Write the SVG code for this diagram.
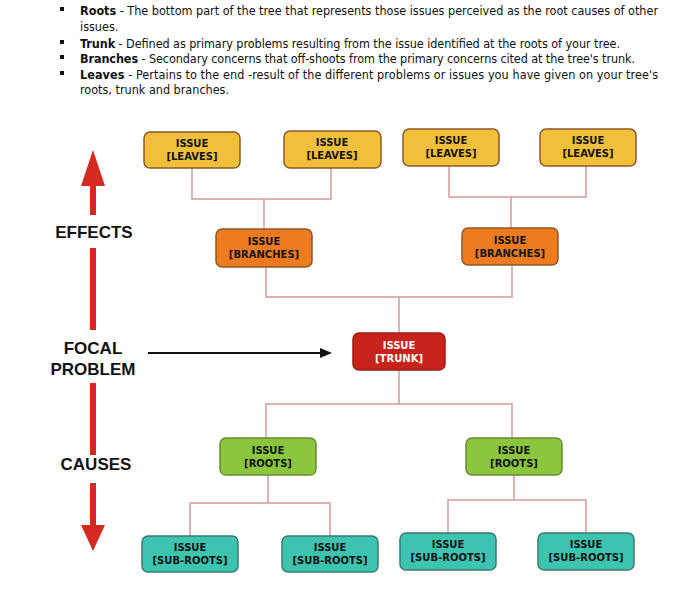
<svg xmlns="http://www.w3.org/2000/svg" width="700" height="602" viewBox="0 0 700 602">
<style>
.t{font-family:"DejaVu Sans Condensed","DejaVu Sans",sans-serif;font-size:12.5px;fill:#111}
.b{font-weight:bold}
.n rect{stroke:#8a5a2a;stroke-width:1.5}
.n text{font-family:"DejaVu Sans",sans-serif;font-size:10px;font-weight:bold;text-anchor:middle;fill:#111}
.lf rect{fill:#f2bf3a}.br rect{fill:#ef7a20}.tr rect{fill:#c8231a;stroke:#a01a12}.tr text{fill:#fff}
.rt rect{fill:#8cc63f;stroke:#6a8a30}.sr rect{fill:#3cc4b0;stroke:#3a7a70}
.c path{fill:none;stroke:#d49a9a;stroke-width:1.5}
.lab{font-family:"Liberation Sans",Arial,sans-serif;font-size:17px;font-weight:bold;text-anchor:middle;fill:#111}
</style>
<rect width="700" height="602" fill="#fff"/>
<g id="text">
<rect x="60" y="7" width="4" height="4" fill="#111"/>
<text class="t" x="80" y="15" textLength="578"><tspan class="b">Roots</tspan> - The bottom part of the tree that represents those issues perceived as the root causes of other</text>
<text class="t" x="80" y="31">issues.</text>
<rect x="60" y="40" width="4" height="4" fill="#111"/>
<text class="t" x="80" y="48" textLength="540"><tspan class="b">Trunk</tspan> - Defined as primary problems resulting from the issue identified at the roots of your tree.</text>
<rect x="60" y="55" width="4" height="4" fill="#111"/>
<text class="t" x="80" y="63" textLength="555"><tspan class="b">Branches</tspan> - Secondary concerns that off-shoots from the primary concerns cited at the tree's trunk.</text>
<rect x="60" y="71" width="4" height="4" fill="#111"/>
<text class="t" x="80" y="79" textLength="578"><tspan class="b">Leaves</tspan> - Pertains to the end -result of the different problems or issues you have given on your tree's</text>
<text class="t" x="80" y="94">roots, trunk and branches.</text>
</g>
<g id="axis">
<polygon points="93,150 81,186 105,186" fill="#d42a1f"/>
<rect x="90" y="185" width="6" height="30" fill="#d42a1f"/>
<rect x="90" y="248" width="6" height="82" fill="#d42a1f"/>
<rect x="90" y="383" width="6" height="72" fill="#d42a1f"/>
<rect x="90" y="483" width="6" height="43" fill="#d42a1f"/>
<polygon points="93,551 81,525 105,525" fill="#d42a1f"/>
<text class="lab" x="94" y="238">EFFECTS</text>
<text class="lab" x="93" y="354">FOCAL</text>
<text class="lab" x="93" y="375">PROBLEM</text>
<text class="lab" x="96" y="470">CAUSES</text>
<line x1="148" y1="353" x2="322" y2="353" stroke="#111" stroke-width="2"/>
<polygon points="332,353 320,348 320,358" fill="#111"/>
</g>
<g class="c" id="connectors">
<path d="M192,168V199H331V168M264,199V229"/>
<path d="M449,166V197H586V166M511,197V228"/>
<path d="M266,267V297H512V265M399,297V333"/>
<path d="M399,370V404M266,438V404H512V438"/>
<path d="M268,475V503M190,536V503H330V536"/>
<path d="M514,475V500M448,533V500H586V533"/>
</g>
<g id="n1" class="n lf"><rect x="144" y="132" width="96" height="36" rx="6"/><text x="192" y="147">ISSUE</text><text x="192" y="160">[LEAVES]</text></g>
<g id="n2" class="n lf"><rect x="284" y="131" width="97" height="37" rx="6"/><text x="332" y="146">ISSUE</text><text x="332" y="159">[LEAVES]</text></g>
<g id="n3" class="n lf"><rect x="403" y="129" width="96" height="37" rx="6"/><text x="451" y="144">ISSUE</text><text x="451" y="157">[LEAVES]</text></g>
<g id="n4" class="n lf"><rect x="540" y="129" width="96" height="37" rx="6"/><text x="588" y="144">ISSUE</text><text x="588" y="157">[LEAVES]</text></g>
<g id="n5" class="n br"><rect x="216" y="229" width="96" height="38" rx="6"/><text x="264" y="245">ISSUE</text><text x="264" y="258">[BRANCHES]</text></g>
<g id="n6" class="n br"><rect x="462" y="228" width="96" height="37" rx="6"/><text x="510" y="244">ISSUE</text><text x="510" y="257">[BRANCHES]</text></g>
<g id="n7" class="n tr"><rect x="353" y="333" width="92" height="37" rx="6"/><text x="399" y="349">ISSUE</text><text x="399" y="362">[TRUNK]</text></g>
<g id="n8" class="n rt"><rect x="220" y="438" width="96" height="37" rx="6"/><text x="268" y="454">ISSUE</text><text x="268" y="467">[ROOTS]</text></g>
<g id="n9" class="n rt"><rect x="466" y="438" width="96" height="37" rx="6"/><text x="514" y="454">ISSUE</text><text x="514" y="467">[ROOTS]</text></g>
<g id="n10" class="n sr"><rect x="142" y="536" width="96" height="36" rx="6"/><text x="190" y="551">ISSUE</text><text x="190" y="564">[SUB-ROOTS]</text></g>
<g id="n11" class="n sr"><rect x="282" y="536" width="96" height="36" rx="6"/><text x="330" y="551">ISSUE</text><text x="330" y="564">[SUB-ROOTS]</text></g>
<g id="n12" class="n sr"><rect x="400" y="533" width="96" height="37" rx="6"/><text x="448" y="548">ISSUE</text><text x="448" y="561">[SUB-ROOTS]</text></g>
<g id="n13" class="n sr"><rect x="538" y="533" width="96" height="37" rx="6"/><text x="586" y="548">ISSUE</text><text x="586" y="561">[SUB-ROOTS]</text></g>
</svg>
